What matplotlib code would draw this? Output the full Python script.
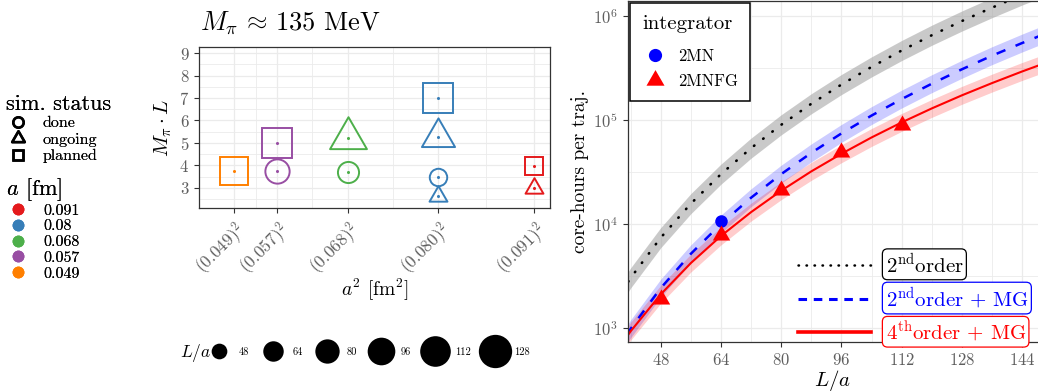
import numpy as np
import matplotlib.pyplot as plt
from matplotlib.lines import Line2D
from matplotlib.path import Path
from matplotlib.ticker import FixedLocator, NullFormatter

plt.rcParams['font.family'] = 'cmr10'
plt.rcParams['mathtext.fontset'] = 'cm'
plt.rcParams['axes.unicode_minus'] = False
plt.rcParams['axes.formatter.use_mathtext'] = True

# --- left panel data (M_pi ~ 135 MeV ensembles) ---
a_fm = [0.049, 0.057, 0.057, 0.068, 0.068, 0.080, 0.080, 0.080, 0.080, 0.091, 0.091]
mpi_L = [3.75, 4.99, 3.74, 5.21, 3.72, 7.00, 5.25, 3.50, 2.63, 3.98, 2.99]
L_over_a = [112, 128, 96, 112, 80, 128, 96, 64, 48, 64, 48]
status = ['planned', 'planned', 'done', 'ongoing', 'done', 'planned',
          'ongoing', 'done', 'ongoing', 'planned', 'ongoing']

a_levels = [0.091, 0.08, 0.068, 0.057, 0.049]
a_colors = ['#E41A1C', '#377EB8', '#4DAF4A', '#984EA3', '#FF7F00']
status_levels = ['done', 'ongoing', 'planned']
size_levels = [48, 64, 80, 96, 112, 128]

# --- right panel data (cost per trajectory) ---
L_grid = [36, 40, 48, 56, 64, 72, 80, 88, 96, 104, 112, 120, 128, 136, 144, 152]
cost_2nd = [1800, 3020, 7380, 15700, 30200, 53800, 90200, 143900, 220300,
            325800, 468800, 657700, 901600, 1213000, 1607000, 2094000]
cost_2nd_mg = [580, 977, 2410, 5160, 10000, 17900, 30200, 48400, 74500,
               110700, 159600, 224400, 309000, 417800, 553400, 724400]
cost_4th_mg = [574, 925, 2100, 4200, 7660, 13000, 20900, 32100, 47400,
               68100, 95100, 129700, 173400, 227500, 294400, 375800]
band_rel = [0.25, 0.22, 0.22]

mn_L = [64]
mn_cost = [10700]
mnfg_L = [48, 64, 80, 96, 112]
mnfg_cost = [1900, 7900, 21000, 49500, 89000]

DPI = 100
PT = 72 / DPI
GREY_TXT = '#5E5E5E'
FRAME = '#333333'
GRID = '#EBEBEB'

tri = Path([(-0.5, -0.2887), (0.5, -0.2887), (0, 0.5774), (-0.5, -0.2887)],
           [Path.MOVETO, Path.LINETO, Path.LINETO, Path.CLOSEPOLY])


def key_diam(L):
    # diameter in px of a size key
    return np.sqrt(246 + (L - 48) * 10.8)


def shape_style(st, L):
    d = key_diam(L)
    if st == 'done':
        return 'o', (0.95 * d - 2) * PT
    if st == 'ongoing':
        return tri, (1.27 * d - 2) / 0.866 * PT
    return 's', (0.97 * d - 2) * PT


def style_axes(ax):
    for sp in ax.spines.values():
        sp.set_color(FRAME)
        sp.set_linewidth(0.9)
    ax.tick_params(which='major', direction='out', length=3.5, width=0.8,
                   color=FRAME, labelcolor=GREY_TXT)
    ax.tick_params(which='minor', length=0)
    ax.grid(True, which='major', color=GRID, lw=0.9)
    ax.grid(True, which='minor', color=GRID, lw=0.6)
    ax.set_axisbelow(True)


fig = plt.figure(figsize=(10.38, 3.92), dpi=DPI)

# ---------------- middle panel ----------------
ax1 = fig.add_axes([0.1917, 0.4694, 0.3382, 0.4107])
style_axes(ax1)
a2_ticks = [a ** 2 for a in a_levels[::-1]]
for a, y, L, st in zip(a_fm, mpi_L, L_over_a, status):
    col = a_colors[a_levels.index(a)]
    m, ms = shape_style(st, L)
    ax1.plot([a ** 2], [y], ls='none', marker=m, ms=ms, mfc='none',
             mec=col, mew=1.4)
    ax1.plot([a ** 2], [y], ls='none', marker='o', ms=2.2, color=col, mew=0)

ax1.set_xlim(0.001716, 0.008588)
ax1.set_ylim(2.1, 9.27)
ax1.set_xticks(a2_ticks)
ax1.set_xticklabels([rf'$({a:.3f})^2$' for a in a_levels[::-1]], rotation=45,
                    ha='right', va='top', rotation_mode='anchor', fontsize=12.5)
ax1.set_xticks([(a2_ticks[i] + a2_ticks[i + 1]) / 2 for i in range(4)], minor=True)
ax1.set_yticks(range(3, 10))
ax1.set_yticks(np.arange(2.5, 9.5, 1.0), minor=True)
ax1.tick_params(axis='y', labelsize=12)
ax1.set_ylabel(r'$M_\pi \cdot L$', fontsize=15)
ax1.yaxis.set_label_coords(-0.07, 0.5)
ax1.set_xlabel(r'$a^2$ [fm$^2$]', fontsize=14)
ax1.xaxis.set_label_coords(0.5, -0.43)
fig.text(200 / 1038, 1 - 30 / 392, r'$M_\pi\,\approx\,135$ MeV', fontsize=19,
         ha='left', va='baseline')

# left legends
st_handles = [Line2D([], [], ls='none', marker=m, ms=s, mfc='none', mec='black', mew=1.8)
              for m, s in [('o', 7.5), (tri, 10.5), ('s', 7.5)]]
leg1 = fig.legend(st_handles, status_levels, title='sim. status', loc='upper left',
                  bbox_to_anchor=(0.006, 0.760), frameon=False, fontsize=11.5,
                  title_fontsize=16, alignment='left', handlelength=1.5,
                  handletextpad=0.8, labelspacing=0.15, borderpad=0, borderaxespad=0)
a_handles = [Line2D([], [], ls='none', marker='o', ms=8.5, color=c, mew=0) for c in a_colors]
leg2 = fig.legend(a_handles, [str(a) for a in a_levels], title=r'$a$ [fm]', loc='upper left',
                  bbox_to_anchor=(0.006, 0.551), frameon=False, fontsize=11.5,
                  title_fontsize=16, alignment='left', handlelength=1.5,
                  handletextpad=0.8, labelspacing=0.1, borderpad=0, borderaxespad=0)
leg2._legend_box.sep = 0.5
fig.add_artist(leg1)

# size legend
sz_handles = [Line2D([], [], ls='none', marker='o', ms=key_diam(L) * PT, color='black', mew=0)
              for L in size_levels]
leg3 = fig.legend(sz_handles, [str(L) for L in size_levels], ncol=6, loc='center left',
                  bbox_to_anchor=(206 / 1038, 1 - 352 / 392), frameon=False, fontsize=7.5,
                  handlelength=2.4, handletextpad=0.7, columnspacing=1.1,
                  borderpad=0, borderaxespad=0)
fig.add_artist(leg2)
fig.text(180 / 1038, 1 - 353 / 392, r'$L/a$', fontsize=12.5, ha='left', va='center')

# ---------------- right panel ----------------
ax2 = fig.add_axes([0.6047, 0.1276, 0.3953, 0.8686])
ax2.set_yscale('log')
style_axes(ax2)
ax2.spines['right'].set_visible(False)

curves = [cost_2nd, cost_2nd_mg, cost_4th_mg]
band_cols = [('#9E9E9E', 0.55), ('blue', 0.2), ('red', 0.2)]
for c, r, (bc, al) in zip(curves, band_rel, band_cols):
    c = np.array(c, dtype=float)
    ax2.fill_between(L_grid, c / (1 + r), c * (1 + r), color=bc, alpha=al, lw=0)

ax2.plot(L_grid, cost_2nd, color='black', lw=1.9, dashes=(0.2, 4.2),
         dash_capstyle='round')
ax2.plot(L_grid, cost_2nd_mg, color='blue', lw=1.8, dashes=(3.8, 4.4))
ax2.plot(L_grid, cost_4th_mg, color='red', lw=1.5)

ax2.plot(mn_L, mn_cost, ls='none', marker='o', ms=9, color='blue', mew=0)
ax2.plot(mnfg_L, mnfg_cost, ls='none', marker=tri, ms=14.5, color='red', mew=0)

ax2.set_xlim(39.2, 148.2)
ax2.set_ylim(728, 1.39e6)
ax2.set_xticks([48, 64, 80, 96, 112, 128, 144])
ax2.set_xticks([40, 56, 72, 88, 104, 120, 136], minor=True)
ax2.yaxis.set_major_locator(FixedLocator([1e3, 1e4, 1e5, 1e6]))
ax2.set_yticklabels([r'$10^{3}$', r'$10^{4}$', r'$10^{5}$', r'$10^{6}$'])
ax2.yaxis.set_minor_locator(FixedLocator([10 ** 2.5, 10 ** 3.5, 10 ** 4.5, 10 ** 5.5]))
ax2.yaxis.set_minor_formatter(NullFormatter())
ax2.tick_params(axis='both', labelsize=12)
ax2.set_ylabel('core-hours per traj.', fontsize=14)
ax2.yaxis.set_label_coords(-0.094, 0.5)
ax2.set_xlabel(r'$L/a$', fontsize=15)
ax2.xaxis.set_label_coords(0.5, -0.076)

int_handles = [Line2D([], [], ls='none', marker='o', ms=9.5, color='blue', mew=0),
               Line2D([], [], ls='none', marker=tri, ms=15, color='red', mew=0)]
leg4 = ax2.legend(int_handles, ['2MN', '2MNFG'], title='integrator', loc='upper left',
                  bbox_to_anchor=(630 / 1038, 1 - 3 / 392), bbox_transform=fig.transFigure,
                  fontsize=12, title_fontsize=15, alignment='left', fancybox=False,
                  edgecolor='black', framealpha=1, borderpad=0.72, labelspacing=0.6,
                  handlelength=1.6, handletextpad=0.55, borderaxespad=0)
leg4._legend_box.sep = 11
leg4.get_frame().set_linewidth(1.1)

ord_handles = [Line2D([], [], color='black', lw=1.8, dashes=(0.2, 3.0), dash_capstyle='round'),
               Line2D([], [], color='blue', lw=2.2, dashes=(2.8, 2.2)),
               Line2D([], [], color='red', lw=2.6)]
ord_labels = [r'$2^{\mathrm{nd}}$order', r'$2^{\mathrm{nd}}$order + MG',
              r'$4^{\mathrm{th}}$order + MG']
leg5 = ax2.legend(ord_handles, ord_labels, loc='upper left',
                  bbox_to_anchor=(798 / 1038, 1 - 252 / 392), bbox_transform=fig.transFigure,
                  frameon=False, fontsize=15, handlelength=3.5, handletextpad=0.7,
                  labelspacing=0.42, borderpad=0, borderaxespad=0)
for t, c in zip(leg5.get_texts(), ['black', 'blue', 'red']):
    t.set_color(c)
    t.set_bbox(dict(boxstyle='round,pad=0.15,rounding_size=0.25', fc='white', ec=c, lw=0.9))
ax2.add_artist(leg4)

fig.savefig('out.png', dpi=DPI)
